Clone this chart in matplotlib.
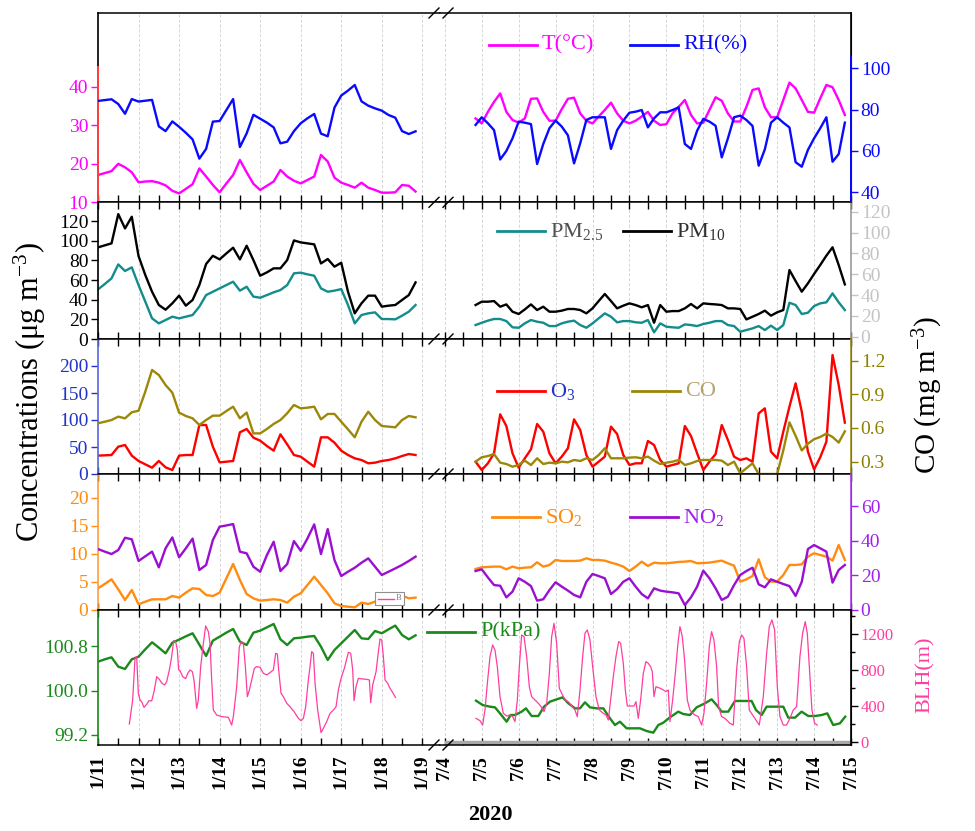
import numpy as np
import matplotlib
matplotlib.use("Agg")
import matplotlib.pyplot as plt
from matplotlib.lines import Line2D
from matplotlib.patches import Rectangle
from matplotlib.ticker import MultipleLocator, FixedLocator, FormatStrFormatter

plt.rcParams['font.family'] = ['Liberation Serif', 'DejaVu Serif']
plt.rcParams['mathtext.fontset'] = 'custom'
plt.rcParams['mathtext.rm'] = 'Liberation Serif'
plt.rcParams['mathtext.it'] = 'Liberation Serif:italic'
plt.rcParams['mathtext.bf'] = 'Liberation Serif:bold'

# ---------------- data ----------------
# January: 4-hourly values, days since 1/11 00:00
jan_t = np.arange(48) / 6.0
# July: 4-hourly values starting 7/4 20:00, days since 7/4 00:00
jul_t = (20 + 4 * np.arange(61)) / 24.0

jan_labels = ['1/11', '1/12', '1/13', '1/14', '1/15', '1/16', '1/17', '1/18', '1/19']
jul_labels = ['7/4', '7/5', '7/6', '7/7', '7/8', '7/9', '7/10', '7/11', '7/12', '7/13', '7/14', '7/15']

T_jan = [17.1, 17.6, 18.1, 20.0, 19.1, 17.8, 15.2, 15.4, 15.5, 15.1, 14.4, 13.0, 12.3, 13.5, 14.7, 18.8,
         16.7, 14.5, 12.6, 14.9, 17.1, 21.0, 17.8, 14.8, 13.2, 14.3, 15.4, 18.4, 16.7, 15.6, 14.9, 15.8,
         16.7, 22.3, 20.6, 16.4, 15.1, 14.5, 13.8, 15.1, 13.8, 13.2, 12.5, 12.5, 12.6, 14.5, 14.3, 12.8]
RH_jan = [84.2, 84.6, 85.0, 82.7, 78.0, 85.1, 83.9, 84.3, 84.7, 71.9, 69.6, 74.3, 71.7, 68.8, 65.6, 56.3,
          61.0, 74.2, 74.5, 79.8, 85.1, 61.9, 68.5, 77.5, 75.6, 73.7, 71.4, 63.7, 64.5, 69.6, 73.4, 75.8,
          77.9, 68.4, 67.1, 81.0, 86.8, 89.2, 91.9, 84.0, 81.9, 80.6, 79.5, 77.4, 76.1, 69.6, 68.2, 69.5]
T_jul = [31.8, 30.5, 33.5, 36.1, 38.3, 33.5, 31.4, 30.7, 31.8, 36.9, 37.0, 33.5, 31.2, 31.2, 34.2, 36.9,
         37.2, 33.1, 31.2, 30.5, 32.3, 34.0, 35.9, 33.1, 31.2, 30.5, 31.2, 32.3, 33.5, 31.2, 30.1, 30.3,
         33.1, 34.8, 36.6, 32.7, 30.5, 30.7, 34.0, 37.3, 36.4, 33.1, 31.0, 31.0, 34.8, 39.2, 39.6, 34.7,
         32.1, 32.1, 36.6, 41.1, 39.6, 36.6, 33.5, 33.3, 37.0, 40.5, 39.9, 36.6, 32.7]
RH_jul = [72.6, 76.3, 73.4, 70.1, 55.9, 60.0, 66.1, 74.2, 73.7, 73.0, 53.7, 63.4, 71.0, 74.7, 71.8, 67.6,
          54.0, 63.7, 75.0, 76.3, 76.3, 76.3, 61.0, 70.1, 74.7, 78.5, 79.0, 79.8, 71.4, 75.8, 78.7, 78.7,
          79.8, 81.1, 63.4, 61.0, 69.8, 75.5, 74.2, 72.2, 56.9, 66.1, 76.3, 77.1, 75.0, 72.1, 52.9, 60.8,
          73.7, 76.3, 73.7, 71.4, 54.6, 52.4, 60.5, 66.1, 71.0, 76.3, 54.8, 58.5, 73.7]

PM10_jan = [93.2, 95.3, 97.3, 127.1, 112.5, 124.4, 84.4, 65.1, 48.1, 34.6, 29.8, 36.3, 44.1, 33.9, 39.7, 54.9,
            76.3, 84.7, 81.0, 87.1, 92.9, 81.0, 94.9, 80.3, 64.4, 67.8, 71.9, 71.9, 80.3, 100.3, 98.3, 97.3,
            96.3, 76.9, 81.4, 73.6, 77.6, 48.1, 26.1, 36.3, 44.1, 44.1, 32.9, 33.9, 34.6, 39.7, 44.7, 57.6]
PM25_jan = [50.5, 55.9, 61.7, 75.9, 69.2, 72.9, 54.9, 38.0, 21.0, 15.9, 19.3, 22.7, 21.0, 22.7, 24.4, 32.9,
            44.7, 48.1, 51.5, 54.9, 58.3, 49.2, 53.2, 43.1, 42.0, 44.7, 47.5, 49.8, 54.9, 66.8, 67.5, 65.8,
            64.4, 51.5, 48.1, 49.2, 50.8, 34.6, 15.9, 24.4, 26.1, 27.1, 20.3, 20.3, 20.0, 23.7, 27.8, 34.6]
PM10_jul = [30.4, 33.6, 33.6, 34.2, 28.8, 31.0, 24.0, 21.8, 26.2, 31.0, 25.6, 28.8, 24.0, 24.0, 25.0, 26.6,
            26.6, 25.6, 22.4, 27.2, 34.2, 41.0, 34.2, 27.2, 29.8, 32.0, 30.4, 28.2, 30.4, 13.4, 30.4, 24.0,
            24.6, 24.6, 27.2, 31.4, 27.2, 32.0, 31.4, 31.0, 30.4, 27.2, 27.2, 26.6, 16.6, 19.2, 21.8, 25.0,
            20.2, 23.4, 25.6, 64.0, 53.4, 43.2, 51.2, 60.2, 68.8, 77.8, 85.8, 68.8, 50.2]
PM25_jul = [11.2, 13.4, 15.4, 17.0, 17.0, 15.0, 9.0, 8.6, 12.8, 16.0, 14.4, 13.4, 10.2, 10.2, 12.8, 14.4,
            15.4, 11.2, 8.6, 12.8, 17.6, 22.4, 19.2, 13.8, 15.0, 15.0, 13.8, 13.4, 16.0, 4.2, 12.8, 9.6,
            9.0, 8.6, 11.8, 11.2, 10.2, 12.2, 13.4, 15.0, 15.0, 11.2, 10.2, 4.8, 6.4, 8.0, 10.2, 6.4,
            10.6, 6.4, 11.2, 32.6, 30.4, 21.8, 23.0, 29.4, 32.0, 33.0, 41.6, 33.0, 25.6]

O3_jan = [34.0, 34.6, 35.2, 50.6, 53.7, 34.0, 24.1, 17.9, 11.7, 24.1, 12.3, 7.4, 34.0, 35.2, 35.2, 90.7,
          90.7, 50.6, 21.6, 22.8, 24.1, 77.2, 83.3, 67.3, 61.7, 51.9, 43.2, 73.5, 54.9, 35.2, 32.1, 22.8,
          13.6, 67.9, 67.9, 58.0, 43.2, 35.2, 29.0, 25.9, 19.8, 21.0, 24.1, 25.9, 29.0, 33.3, 37.0, 35.2]
CO_jan = [0.642, 0.656, 0.671, 0.701, 0.686, 0.740, 0.754, 0.924, 1.117, 1.072, 0.983, 0.915, 0.737, 0.707,
          0.686, 0.627, 0.671, 0.710, 0.710, 0.751, 0.790, 0.686, 0.737, 0.552, 0.552, 0.591, 0.636, 0.671,
          0.731, 0.805, 0.775, 0.781, 0.790, 0.677, 0.725, 0.725, 0.656, 0.588, 0.517, 0.656, 0.745, 0.671,
          0.618, 0.612, 0.606, 0.671, 0.707, 0.695]
O3_jul = [22.8, 7.4, 19.8, 38.3, 110.5, 88.9, 38.3, 11.7, 29.0, 45.7, 92.6, 78.4, 38.3, 19.8, 32.1, 47.5,
          101.2, 81.5, 35.2, 13.6, 22.8, 32.1, 87.7, 74.1, 35.2, 16.7, 19.8, 19.8, 61.1, 53.7, 25.9, 13.6,
          16.7, 19.8, 88.9, 70.4, 38.3, 7.4, 22.8, 37.0, 90.7, 63.0, 32.1, 25.9, 29.0, 22.8, 112.3, 121.6,
          41.4, 29.0, 78.4, 124.7, 167.9, 115.4, 41.4, 8.6, 30.9, 59.9, 220.4, 164.8, 95.1]
CO_jul = [0.300, 0.339, 0.350, 0.368, 0.291, 0.279, 0.255, 0.270, 0.309, 0.270, 0.330, 0.279, 0.291, 0.285,
          0.300, 0.294, 0.315, 0.306, 0.330, 0.315, 0.359, 0.419, 0.330, 0.330, 0.330, 0.336, 0.339, 0.330,
          0.345, 0.309, 0.279, 0.291, 0.300, 0.315, 0.270, 0.285, 0.306, 0.315, 0.315, 0.315, 0.309, 0.270,
          0.300, 0.196, 0.241, 0.285, 0.19, 0.19, 0.19, 0.19, 0.40, 0.65, 0.53, 0.40, 0.46, 0.50, 0.52,
          0.55, 0.52, 0.47, 0.57]

SO2_jan = [3.86, 4.63, 5.46, 3.68, 1.78, 3.56, 1.01, 1.48, 1.90, 1.90, 1.90, 2.49, 2.20, 3.09, 3.86, 3.74,
           2.67, 2.49, 3.09, 5.64, 8.19, 5.34, 2.85, 2.08, 1.66, 1.78, 1.90, 1.78, 1.31, 2.37, 2.97, 4.45,
           5.93, 4.45, 2.97, 1.19, 0.71, 0.59, 0.47, 1.31, 1.07, 1.48, 1.66, 2.08, 2.37, 2.55, 2.08, 2.20]
NO2_jan = [35.2, 33.7, 32.3, 34.6, 41.7, 40.8, 28.3, 31.0, 33.7, 24.6, 35.6, 41.9, 30.4, 35.6, 41.2, 23.1,
           26.0, 40.4, 48.1, 48.8, 49.6, 33.7, 32.7, 25.0, 22.1, 31.7, 39.4, 22.5, 26.5, 39.8, 34.2, 41.3,
           49.4, 32.3, 46.7, 28.8, 19.6, 22.1, 24.4, 27.3, 29.8, 25.0, 20.2, 22.1, 24.0, 26.0, 28.3, 30.8]
SO2_jul = [7.30, 7.60, 7.66, 7.72, 7.72, 7.24, 7.72, 7.42, 7.54, 7.60, 8.49, 7.72, 8.01, 8.90, 8.72, 8.72,
           8.72, 8.78, 9.20, 8.90, 8.90, 8.78, 8.43, 8.13, 7.72, 6.94, 7.72, 8.61, 7.83, 8.43, 8.31, 8.31,
           8.43, 8.55, 8.61, 8.72, 8.31, 8.37, 8.43, 8.61, 8.78, 8.31, 7.89, 5.04, 5.46, 6.05, 9.02, 5.82,
           5.04, 5.04, 6.23, 8.01, 8.01, 8.13, 9.50, 10.09, 9.79, 9.50, 8.78, 11.57, 8.90]
NO2_jul = [22.5, 23.5, 18.8, 14.4, 14.0, 7.3, 10.6, 18.3, 16.3, 13.8, 5.4, 6.2, 11.5, 16.0, 13.5, 11.2,
           8.7, 7.3, 16.3, 20.8, 19.6, 18.3, 9.2, 12.1, 16.3, 18.3, 13.5, 9.2, 6.7, 12.5, 11.2, 10.6,
           10.2, 9.6, 2.9, 7.3, 13.5, 22.7, 18.3, 12.5, 5.8, 7.7, 14.4, 20.2, 22.5, 24.4, 14.8, 13.1,
           17.7, 16.3, 15.0, 13.8, 8.1, 16.3, 35.2, 37.5, 35.6, 33.7, 15.8, 23.1, 26.0]

P_jan = [100.525, 100.568, 100.604, 100.435, 100.393, 100.568, 100.616, 100.749, 100.876, 100.779,
         100.676, 100.870, 100.924, 100.984, 101.039, 100.833, 100.628, 100.906, 100.978, 101.051,
         101.117, 100.888, 100.827, 101.051, 101.087, 101.147, 101.208, 100.930, 100.827, 100.948,
         100.960, 100.978, 100.990, 100.797, 100.556, 100.737, 100.857, 100.978, 101.099, 100.948,
         100.936, 101.081, 101.039, 101.111, 101.178, 101.008, 100.930, 101.002]
P_jul_t = [0.845, 1.025, 1.224, 1.359, 1.495, 1.675, 1.783, 1.901, 2.081, 2.198,
           2.352, 2.533, 2.686, 2.849, 3.029, 3.191, 3.345, 3.525, 3.661, 3.796,
           3.931, 4.112, 4.293, 4.473, 4.608, 4.743, 4.924, 5.105, 5.285, 5.466,
           5.646, 5.782, 5.917, 6.097, 6.323, 6.458, 6.639, 6.819, 7.045, 7.225,
           7.361, 7.496, 7.677, 7.858, 8.083, 8.309, 8.426, 8.580, 8.715, 8.895,
           9.166, 9.302, 9.482, 9.662, 9.843, 10.023, 10.204, 10.357, 10.518, 10.699, 10.843]
P_jul = [99.819, 99.740, 99.710, 99.698, 99.589, 99.438, 99.559, 99.559, 99.620, 99.680,
         99.541, 99.541, 99.710, 99.801, 99.843, 99.879, 99.771, 99.680, 99.680, 99.789,
         99.698, 99.680, 99.680, 99.499, 99.378, 99.438, 99.318, 99.318, 99.318, 99.269,
         99.239, 99.378, 99.420, 99.517, 99.620, 99.577, 99.559, 99.698, 99.771, 99.843,
         99.741, 99.620, 99.620, 99.813, 99.813, 99.813, 99.650, 99.559, 99.710, 99.710,
         99.710, 99.511, 99.511, 99.620, 99.541, 99.541, 99.559, 99.589, 99.378, 99.408, 99.529]

BLH_jan_t = [0.773, 0.855, 0.913, 0.954, 0.995, 1.036, 1.077, 1.135, 1.201, 1.258,
             1.324, 1.382, 1.447, 1.513, 1.579, 1.645, 1.694, 1.760, 1.817, 1.867,
             1.916, 1.957, 1.990, 2.023, 2.089, 2.163, 2.212, 2.270, 2.327, 2.368,
             2.434, 2.475, 2.533, 2.599, 2.656, 2.722, 2.763, 2.804, 2.845, 2.928,
             3.051, 3.215, 3.298, 3.339, 3.421, 3.487, 3.536, 3.586, 3.635, 3.684,
             3.734, 3.791, 3.857, 3.914, 3.997, 4.079, 4.161, 4.243, 4.326, 4.383,
             4.424, 4.457, 4.515, 4.572, 4.655, 4.737, 4.836, 4.942, 5.008, 5.066,
             5.123, 5.189, 5.230, 5.271, 5.312, 5.354, 5.419, 5.502, 5.559, 5.641,
             5.724, 5.806, 5.872, 5.929, 5.995, 6.077, 6.176, 6.234, 6.283, 6.316,
             6.365, 6.423, 6.530, 6.628, 6.694, 6.727, 6.776, 6.859, 6.916, 6.957,
             6.998, 7.039, 7.081, 7.146, 7.204, 7.270, 7.336]
BLH_jan = [198, 466, 932, 951, 541, 466, 447, 384, 418, 459,
           455, 559, 727, 697, 652, 634, 671, 802, 951, 1130,
           1118, 1025, 802, 794, 727, 705, 764, 802, 783, 690,
           373, 466, 839, 1100, 1294, 1230, 1100, 690, 354, 298,
           280, 272, 186, 280, 615, 1062, 1118, 1100, 839, 503,
           578, 690, 820, 839, 831, 764, 746, 772, 802, 988,
           980, 802, 541, 503, 429, 391, 336, 261, 235, 261,
           391, 690, 839, 1007, 988, 652, 354, 101, 149, 224,
           317, 354, 391, 578, 708, 820, 999, 988, 802, 459,
           615, 708, 701, 697, 690, 436, 634, 783, 1007, 1148,
           1137, 951, 690, 652, 596, 548, 496]
BLH_jul_t = [0.845, 0.953, 1.025, 1.088, 1.152, 1.224, 1.296, 1.359, 1.422, 1.495,
             1.585, 1.675, 1.765, 1.838, 1.901, 1.964, 2.018, 2.081, 2.145, 2.217,
             2.289, 2.352, 2.443, 2.533, 2.623, 2.686, 2.759, 2.831, 2.894, 2.957,
             3.029, 3.101, 3.165, 3.255, 3.345, 3.435, 3.525, 3.588, 3.661, 3.733,
             3.796, 3.859, 3.931, 4.004, 4.094, 4.184, 4.293, 4.365, 4.428, 4.491,
             4.563, 4.635, 4.708, 4.762, 4.834, 4.888, 4.942, 5.033, 5.123, 5.177,
             5.240, 5.303, 5.375, 5.447, 5.511, 5.574, 5.619, 5.664, 5.718, 5.782,
             5.845, 5.917, 5.989, 6.052, 6.097, 6.170, 6.242, 6.314, 6.368, 6.431,
             6.494, 6.567, 6.639, 6.711, 6.774, 6.864, 6.955, 7.018, 7.090, 7.162,
             7.225, 7.289, 7.361, 7.415, 7.496, 7.586, 7.722, 7.812, 7.902, 7.975,
             8.038, 8.101, 8.173, 8.245, 8.336, 8.426, 8.516, 8.625, 8.715, 8.787,
             8.859, 8.931, 9.004, 9.076, 9.166, 9.256, 9.346, 9.437, 9.527, 9.617,
             9.690, 9.762, 9.816, 9.888, 9.942, 10.015, 10.087]
BLH_jul = [261, 235, 186, 354, 652, 951, 1081, 1025, 839, 503,
           317, 287, 298, 280, 224, 466, 839, 1193, 1174, 951,
           615, 503, 466, 429, 384, 336, 429, 764, 1174, 1323,
           1100, 596, 541, 466, 447, 399, 354, 280, 578, 951,
           1212, 1249, 1137, 839, 503, 354, 317, 298, 242, 466,
           727, 951, 1118, 1100, 876, 578, 399, 399, 399, 447,
           261, 466, 764, 895, 876, 839, 783, 503, 615, 604,
           596, 578, 559, 578, 224, 466, 764, 1100, 1286, 1174,
           913, 466, 354, 317, 298, 280, 186, 317, 652, 1062,
           1230, 1137, 839, 391, 280, 261, 205, 186, 802, 1118,
           1193, 1155, 839, 354, 298, 242, 186, 503, 988, 1286,
           1361, 1249, 615, 280, 186, 186, 261, 354, 391, 951,
           1212, 1342, 1212, 727, 354, 205, 186]

# ---------------- styles ----------------
C_T, C_RH = '#ff00ff', '#0a0aff'
C_PM25, C_PM10 = '#138c8c', '#000000'
C_O3, C_CO = '#ff0000', '#9c8808'
C_SO2, C_NO2 = '#ff8c10', '#9a10d0'
C_P, C_BLH = '#1a8a1a', '#ff3d9e'
LW = 1.7

W, H = 975.0, 831.0
fig = plt.figure(figsize=(9.75, 8.31), dpi=100)


def fx(px):
    return px / W


def fy(py):
    return 1 - py / H


XL0, XB, XR1 = 98.0, 440.0, 851.0
jan_ppd, jul_ppd, jul0 = 40.54, 36.93, 444.8
jan_xlim = (0, (XB - XL0) / jan_ppd)
jul_xlim = ((XB - jul0) / jul_ppd, 11.0)
rows_px = [(13, 202.3), (202.3, 339), (339, 474), (474, 610), (610, 745)]
TICK_FS = 14


def make_pair(i):
    top, bot = rows_px[i]
    h = (bot - top) / H
    axL = fig.add_axes([fx(XL0), fy(bot), fx(XB) - fx(XL0), h])
    axR = fig.add_axes([fx(XB), fy(bot), fx(XR1) - fx(XB), h])
    axL.spines['right'].set_visible(False)
    axR.spines['left'].set_visible(False)
    axL.set_xlim(*jan_xlim)
    axR.set_xlim(*jul_xlim)
    for ax, n in ((axL, 9), (axR, 12)):
        ax.xaxis.set_major_locator(FixedLocator(list(range(n))))
        ax.xaxis.set_minor_locator(MultipleLocator(0.5))
        ax.tick_params(axis='x', which='both', direction='in', top=(i > 0), bottom=True,
                       length=5, width=1, labelbottom=False)
        ax.grid(axis='x', which='major', color='#d4d4d4', lw=0.7, ls=(0, (3, 2)))
        ax.set_axisbelow(True)
        for s in ('top', 'bottom'):
            ax.spines[s].set_linewidth(1.1)
    return axL, axR


def hide_left_y(ax):
    ax.tick_params(axis='y', which='both', left=False, labelleft=False,
                   right=False, labelright=False)


def style_left(ax, color, spine_color, ticks, ylim, fs=TICK_FS):
    ax.set_ylim(*ylim)
    ax.yaxis.set_major_locator(FixedLocator(ticks))
    ax.tick_params(axis='y', which='both', direction='out', length=5, width=1,
                   colors=color, labelsize=fs, pad=2, left=True, labelleft=True,
                   right=False, labelright=False)
    ax.spines['left'].set_color(spine_color)
    ax.spines['left'].set_linewidth(1.2)


def style_right(ax, color, spine_color, ticks, ylim, fs=TICK_FS):
    ax.set_ylim(*ylim)
    ax.yaxis.set_major_locator(FixedLocator(ticks))
    ax.tick_params(axis='y', which='both', direction='out', length=5, width=1,
                   colors=color, labelsize=fs, right=True, labelright=True,
                   left=False, labelleft=False, pad=2)
    ax.spines['right'].set_visible(True)
    ax.spines['right'].set_color(spine_color)
    ax.spines['right'].set_linewidth(1.2)


def twin(ax):
    t = ax.twinx()
    for s in t.spines.values():
        s.set_visible(False)
    t.tick_params(axis='y', which='both', right=False, labelright=False,
                  left=False, labelleft=False)
    return t


# ---------- Row 1: T / RH ----------
aL, aR = make_pair(0)
aL2, aR2 = twin(aL), twin(aR)
ylT = (10, 59.2)
ylRH = (35.2, 126.7)
style_left(aL, C_T, 'black', [10, 20, 30, 40], ylT)
aR.set_ylim(*ylT)
hide_left_y(aR)
aL2.set_ylim(*ylRH)
style_right(aR2, C_RH, 'black', [40, 60, 80, 100], ylRH)
aL.plot([0, 0], [0, 0.715], transform=aL.transAxes, color='#ff4040', lw=1.4, clip_on=False, zorder=6)
aR2.plot([1, 1], [0, 0.768], transform=aR2.transAxes, color=C_RH, lw=1.4, clip_on=False, zorder=6)
aL.plot(jan_t, T_jan, color=C_T, lw=LW)
aL2.plot(jan_t, RH_jan, color=C_RH, lw=LW)
aR.plot(jul_t, T_jul, color=C_T, lw=LW)
aR2.plot(jul_t, RH_jul, color=C_RH, lw=LW)

# ---------- Row 2: PM ----------
bL, bR = make_pair(1)
style_left(bL, 'black', 'black', list(range(0, 121, 20)), (0, 139.1), fs=14)
style_right(bR, '#c4c4c4', '#9a9a9a', list(range(0, 121, 20)), (-2.2, 129.0), fs=14)
bL.plot(jan_t, PM25_jan, color=C_PM25, lw=LW)
bL.plot(jan_t, PM10_jan, color=C_PM10, lw=LW)
bR.plot(jul_t, PM25_jul, color=C_PM25, lw=LW)
bR.plot(jul_t, PM10_jul, color=C_PM10, lw=LW)

# ---------- Row 3: O3 / CO ----------
cL, cR = make_pair(2)
cL2, cR2 = twin(cL), twin(cR)
ylO3 = (0, 250)
ylCO = (0.19, 1.393)
style_left(cL, '#2234c8', '#5a6ae0', [0, 50, 100, 150, 200], ylO3)
cR.set_ylim(*ylO3)
hide_left_y(cR)
cL2.set_ylim(*ylCO)
style_right(cR2, '#8c8000', '#a09018', [0.3, 0.6, 0.9, 1.2], ylCO)
cR2.yaxis.set_major_formatter(FormatStrFormatter('%.1f'))
cL2.plot(jan_t, CO_jan, color=C_CO, lw=LW)
cL.plot(jan_t, O3_jan, color=C_O3, lw=LW)
cR2.plot(jul_t, CO_jul, color=C_CO, lw=LW)
cR.plot(jul_t, O3_jul, color=C_O3, lw=LW)

# ---------- Row 4: SO2 / NO2 ----------
dL, dR = make_pair(3)
dL2, dR2 = twin(dL), twin(dR)
ylSO2 = (0, 24.2)
ylNO2 = (0, 78.5)
style_left(dL, C_SO2, '#ffa040', [0, 5, 10, 15, 20], ylSO2)
dR.set_ylim(*ylSO2)
hide_left_y(dR)
dL2.set_ylim(*ylNO2)
style_right(dR2, '#a020f0', '#b040f0', [0, 20, 40, 60], ylNO2)
dL2.plot(jan_t, NO2_jan, color=C_NO2, lw=LW)
dL.plot(jan_t, SO2_jan, color=C_SO2, lw=LW)
dR.plot(jul_t, SO2_jul, color=C_SO2, lw=LW)
dR2.plot(jul_t, NO2_jul, color=C_NO2, lw=LW)

# ---------- Row 5: P / BLH ----------
eL, eR = make_pair(4)
eL2, eR2 = twin(eL), twin(eR)
ylP = (99.016, 101.461)
ylBLH = (-37, 1472)
style_left(eL, C_P, C_P, [99.2, 100.0, 100.8], ylP)
eL.yaxis.set_major_formatter(FormatStrFormatter('%.1f'))
eR.set_ylim(*ylP)
hide_left_y(eR)
eL2.set_ylim(*ylBLH)
style_right(eR2, C_BLH, 'black', [0, 400, 800, 1200], ylBLH, fs=12)
eR2.yaxis.set_minor_locator(MultipleLocator(200))
eR2.tick_params(axis='y', which='minor', length=3, color='black', right=True, left=False)
eR2.tick_params(axis='y', which='major', color='black')
eL2.plot(BLH_jan_t, BLH_jan, color=C_BLH, lw=0.9)
eL.plot(jan_t, P_jan, color=C_P, lw=LW)
eR2.plot(BLH_jul_t, BLH_jul, color=C_BLH, lw=0.9)
eR.plot(P_jul_t, P_jul, color=C_P, lw=LW)
eR.plot([(jul0 - XB) / (XR1 - XB), 1], [0.012, 0.012], transform=eR.transAxes,
        color='#a8a8a8', lw=3.2, solid_capstyle='butt', zorder=1)

# x tick labels on the bottom row
for ax, labs in ((eL, jan_labels), (eR, jul_labels)):
    ax.tick_params(axis='x', labelbottom=True, pad=7)
    ax.set_xticklabels(labs, rotation=90, fontsize=14, fontweight='bold')

# ---------- axis break marks ----------
for yb in [13] + [r[1] for r in rows_px]:
    for xb in (434, 448):
        fig.add_artist(Line2D([fx(xb - 5), fx(xb + 5)], [fy(yb + 5), fy(yb - 5)],
                              color='black', lw=1.0))


# ---------- in-plot legends ----------
def legend_item(x0, y, color, text, tcolor, fs=16):
    fig.add_artist(Line2D([fx(x0), fx(x0 + 48)], [fy(y), fy(y)], color=color, lw=2.0))
    fig.text(fx(x0 + 53), fy(y), text, color=tcolor, fontsize=fs, va='center', ha='left')


legend_item(489, 45, C_T, 'T(°C)', C_T)
legend_item(630, 45, C_RH, 'RH(%)', C_RH)
legend_item(497, 231, C_PM25, 'PM$_{2.5}$', '#505050')
legend_item(623, 231, C_PM10, 'PM$_{10}$', '#303030')
legend_item(497, 391, C_O3, 'O$_3$', '#2234c8')
legend_item(632, 391, C_CO, 'CO', '#b4a470')
legend_item(492, 517, C_SO2, 'SO$_2$', C_SO2)
legend_item(630, 517, C_NO2, 'NO$_2$', '#a020f0')
legend_item(427, 632, C_P, 'P(kPa)', C_P)

# stray small legend box "B"
fig.add_artist(Rectangle((fx(375), fy(605)), fx(404) - fx(375), (605 - 592) / H,
                         facecolor='white', edgecolor='#909090', lw=0.8))
fig.add_artist(Line2D([fx(378), fx(394)], [fy(598.5), fy(598.5)], color=C_BLH, lw=1.0))
fig.text(fx(396), fy(598.5), 'B', fontsize=6, color='#808080', va='center', ha='left')

# ---------- axis titles ----------
fig.text(fx(30), fy(392), 'Concentrations (μg m$^{-3}$)', rotation=90, fontsize=22,
         va='center', ha='center', color='black')
fig.text(fx(928), fy(395), 'CO (mg m$^{-3}$)', rotation=90, fontsize=21,
         va='center', ha='center', color='black')
fig.text(fx(925), fy(675), 'BLH(m)', rotation=90, fontsize=16,
         va='center', ha='center', color=C_BLH)
fig.text(fx(490), fy(815), '2020', fontsize=16, fontweight='bold', va='center', ha='center')

fig.savefig('out.png', dpi=100)
